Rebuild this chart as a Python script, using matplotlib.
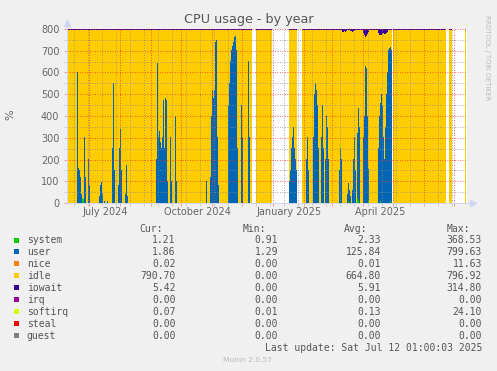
import matplotlib
matplotlib.use('Agg')
from matplotlib import pyplot as plt
from matplotlib import patches
import matplotlib.dates as mdates
import numpy as np
import pandas as pd

# one sample per day on the yearly graph
first_day = '2024-06-09'
last_day = '2025-07-12'
total_cpu = 800

# days with no data (white columns)
no_data = [
    ('2024-12-11', '2024-12-14'),
    ('2024-12-31', '2025-01-16'),
    ('2025-01-25', '2025-01-29'),
    ('2025-04-30', '2025-04-30'),
    ('2025-06-23', '2025-06-25'),
    ('2025-06-29', '2025-07-11'),
]

user_days = [
    '2024-06-19', '2024-06-20', '2024-06-21', '2024-06-22', '2024-06-23',
    '2024-06-26', '2024-06-27', '2024-06-30', '2024-07-01',
    '2024-07-11', '2024-07-12', '2024-07-13', '2024-07-14', '2024-07-16', '2024-07-19',
    '2024-07-24', '2024-07-25', '2024-07-26',
    '2024-07-30', '2024-07-31', '2024-08-01', '2024-08-02',
    '2024-08-06', '2024-08-07', '2024-08-08',
    '2024-09-06', '2024-09-07', '2024-09-08', '2024-09-09', '2024-09-10', '2024-09-11',
    '2024-09-12', '2024-09-13', '2024-09-14', '2024-09-15', '2024-09-16', '2024-09-17',
    '2024-09-20', '2024-09-21', '2024-09-25', '2024-09-26',
    '2024-10-26', '2024-10-30', '2024-10-31', '2024-11-01', '2024-11-02', '2024-11-03',
    '2024-11-04', '2024-11-05', '2024-11-06', '2024-11-07',
    '2024-11-17', '2024-11-18', '2024-11-19', '2024-11-20', '2024-11-21', '2024-11-22',
    '2024-11-23', '2024-11-24', '2024-11-25', '2024-11-26',
    '2024-11-30', '2024-12-01', '2024-12-07', '2024-12-08',
    '2025-01-17', '2025-01-18', '2025-01-19', '2025-01-20', '2025-01-21', '2025-01-22',
    '2025-01-23', '2025-01-24',
    '2025-02-03', '2025-02-04', '2025-02-05',
    '2025-02-10', '2025-02-11', '2025-02-12', '2025-02-13', '2025-02-14', '2025-02-15',
    '2025-02-18', '2025-02-19', '2025-02-20',
    '2025-02-22', '2025-02-23', '2025-02-24', '2025-02-25',
    '2025-03-08', '2025-03-09', '2025-03-10',
    '2025-03-16', '2025-03-17', '2025-03-18', '2025-03-19',
    '2025-03-21', '2025-03-22', '2025-03-23', '2025-03-24',
    '2025-03-26', '2025-03-27', '2025-03-28',
    '2025-04-01', '2025-04-02', '2025-04-03', '2025-04-04', '2025-04-05', '2025-04-06',
    '2025-04-16', '2025-04-17', '2025-04-18', '2025-04-19', '2025-04-20', '2025-04-21',
    '2025-04-22', '2025-04-23', '2025-04-24', '2025-04-25', '2025-04-26', '2025-04-27',
    '2025-04-28', '2025-04-29',
]
user_vals = [
    600, 160, 150, 120, 40,
    300, 120, 200, 80,
    30, 80, 95, 40, 8, 8,
    250, 550, 150,
    80, 250, 340, 150,
    40, 175, 30,
    200, 640, 300, 330, 280, 250,
    300, 470, 250, 480, 470, 100,
    300, 100, 400, 100,
    100, 120, 400, 520, 480, 520,
    740, 750, 300, 80,
    450, 550, 650, 700, 720, 740,
    760, 765, 700, 250,
    450, 300, 650, 300,
    100, 150, 250, 300, 350, 250,
    200, 150,
    200, 300, 150,
    300, 500, 550, 520, 450, 250,
    300, 450, 250,
    200, 400, 350, 200,
    150, 250, 200,
    40, 80, 60, 30,
    60, 200, 300, 150,
    300, 420, 350,
    300, 400, 630, 620, 400, 150,
    250, 400, 450, 500, 450, 300,
    200, 350, 500, 600, 700, 710,
    710, 700,
]

system_base = 1.5
system_days = ['2024-06-24', '2024-06-25', '2025-03-17', '2025-03-26', '2025-03-27',
               '2025-04-06', '2025-04-18', '2025-04-28']
system_vals = [25, 20, 10, 23, 15, 8, 10, 8]

iowait_base = 5
iowait_days = ['2025-03-11', '2025-03-12', '2025-03-13', '2025-03-14', '2025-03-15',
               '2025-03-19', '2025-03-20', '2025-03-21', '2025-03-22', '2025-03-23',
               '2025-04-01', '2025-04-02', '2025-04-03', '2025-04-04', '2025-04-05', '2025-04-06',
               '2025-04-16', '2025-04-17', '2025-04-18', '2025-04-19', '2025-04-20',
               '2025-04-21', '2025-04-22', '2025-04-23', '2025-04-24', '2025-04-25']
iowait_vals = [10, 10, 8, 10, 8,
               8, 8, 10, 8, 8,
               15, 25, 35, 30, 20, 10,
               15, 25, 28, 25, 20,
               15, 20, 22, 18, 10]

softirq_base = 0.1
softirq_busy = ('2025-01-30', '2025-06-22')
softirq_busy_val = 1.5

labels = ['system', 'user', 'nice', 'idle', 'iowait', 'irq', 'softirq', 'steal', 'guest']
colors = ['#00CC00', '#0066B3', '#FF8000', '#FFCC00', '#330099', '#990099', '#CCFF00', '#FF0000', '#808080']
cur = [1.21, 1.86, 0.02, 790.70, 5.42, 0.00, 0.07, 0.00, 0.00]
mins = [0.91, 1.29, 0.00, 0.00, 0.00, 0.00, 0.01, 0.00, 0.00]
avgs = [2.33, 125.84, 0.01, 664.80, 5.91, 0.00, 0.13, 0.00, 0.00]
maxs = [368.53, 799.63, 11.63, 796.92, 314.80, 0.00, 24.10, 0.00, 0.00]

month_labels = ['July 2024', 'October 2024', 'January 2025', 'April 2025']
month_label_days = ['2024-07-17', '2024-10-17', '2025-01-17', '2025-04-18']

# ---------------------------------------------------------------------------
days = pd.date_range(first_day, last_day, freq='D')


def series(base, ds=(), vs=()):
    s = pd.Series(float(base), index=days)
    if len(ds):
        s.loc[pd.to_datetime(list(ds))] = vs
    return s


system = series(system_base, system_days, system_vals)
user = series(0, user_days, user_vals)
nice = series(0)
iowait = series(iowait_base, iowait_days, iowait_vals)
irq = series(0)
softirq = series(softirq_base)
softirq.loc[softirq_busy[0]:softirq_busy[1]] = softirq_busy_val
steal = series(0)
guest = series(0)
idle = total_cpu - (system + user + nice + iowait + irq + softirq + steal + guest)

layers = [system, user, nice, idle, iowait, irq, softirq, steal, guest]
for s in layers:
    for a, b in no_data:
        s.loc[a:b] = np.nan

fig = plt.figure(figsize=(4.97, 3.71), dpi=100, facecolor='#F0F0F0')
W, H = 497, 371
ax = fig.add_axes([67 / W, 1 - 203 / H, 400 / W, 174 / H])
ax.set_facecolor('white')

x = mdates.date2num(days)
bottom = np.zeros(len(days))
for s, c in zip(layers, colors):
    v = s.to_numpy()
    ax.bar(x, v, width=1, bottom=bottom, align='edge', color=c, linewidth=0)
    bottom = bottom + np.nan_to_num(v)

x0 = mdates.date2num(pd.Timestamp(first_day))
ax.set_xlim(x0, x0 + 400)
ax.set_ylim(0, 800)

# grid: months in red, fortnights in grey (dotted, drawn over the areas)
month_starts = pd.date_range('2024-07-01', '2025-07-01', freq='MS')
fortnights = pd.date_range('2024-06-16', '2025-07-12', freq='14D')
ax.set_xticks(mdates.date2num(month_starts))
ax.set_xticks(mdates.date2num(fortnights), minor=True)
ax.set_xticklabels([])
ax.set_yticks(np.arange(0, 801, 100))
ax.set_yticks(np.arange(50, 800, 100), minor=True)
ax.grid(which='major', color=(0.95, 0.2, 0.2, 0.3), linestyle=(0, (1, 2)), linewidth=0.6)
ax.grid(which='minor', color=(0.55, 0.55, 0.55, 0.35), linestyle=(0, (1, 2)), linewidth=0.6)
ax.tick_params(which='major', length=2.5, width=0.72, color=(1, 0, 0, 0.35),
               labelsize=7, labelcolor='#666666', pad=3)
ax.tick_params(which='minor', length=2.5, width=0.72, color=(0.5, 0.5, 0.5, 0.3))

for sp in ['top', 'right']:
    ax.spines[sp].set_visible(False)
for sp in ['left', 'bottom']:
    ax.spines[sp].set_color('#CFD6F8')
    ax.spines[sp].set_linewidth(0.72)

# axis arrows
ax.plot([1.0, 1.012], [0, 0], transform=ax.transAxes, color='#CFD6F8', lw=0.72, clip_on=False)
ax.plot([1.014], [0], marker='>', markersize=4, color='#CFD6F8', transform=ax.transAxes, clip_on=False)
ax.plot([0, 0], [1.0, 1.03], transform=ax.transAxes, color='#CFD6F8', lw=0.72, clip_on=False)
ax.plot([0], [1.035], marker='^', markersize=4, color='#CFD6F8', transform=ax.transAxes, clip_on=False)

for lab, d in zip(month_labels, month_label_days):
    ax.text(mdates.date2num(pd.Timestamp(d)), -8.7 / 174, lab, transform=ax.get_xaxis_transform(),
            ha='center', va='center', fontsize=7, color='#666666')

fig.text(248.5 / W, 1 - 19 / H, 'CPU usage - by year', ha='center', va='center',
         fontsize=9.2, color='#555555')
fig.text(10 / W, 1 - 115 / H, '%', rotation=90, ha='center', va='center', fontsize=8, color='#666666')
fig.text(487 / W, 1 - 58 / H, 'RRDTOOL / TOBI OETIKER', rotation=270, ha='center', va='center',
         fontsize=4.8, color='#BBBBBB')

# legend table
mono = dict(family='DejaVu Sans Mono', fontsize=7, color='#555555', va='center')
head_y = 228.5
for txt, xr in zip(['Cur:', 'Min:', 'Avg:', 'Max:'], [163, 266, 367.7, 470]):
    fig.text(xr / W, 1 - head_y / H, txt, ha='right', **mono)
for i, (lab, c) in enumerate(zip(labels, colors)):
    yy = 240 + 11.96 * i
    fig.add_artist(patches.Rectangle((14 / W, 1 - (yy + 2.5) / H), 5 / W, 5 / H,
                                     transform=fig.transFigure, color=c, lw=0))
    fig.text(26.7 / W, 1 - yy / H, lab, ha='left', **mono)
    for vals, xr in zip([cur, mins, avgs, maxs], [175.7, 278, 380.7, 482]):
        fig.text(xr / W, 1 - yy / H, f'{vals[i]:.2f}', ha='right', **mono)
fig.text(482 / W, 1 - 347.7 / H, 'Last update: Sat Jul 12 01:00:03 2025', ha='right', **mono)
fig.text(247.7 / W, 1 - 360 / H, 'Munin 2.0.57', ha='center', va='center', fontsize=5.4, color='#BBBBBB')

fig.savefig('out.png', dpi=100, facecolor=fig.get_facecolor())
